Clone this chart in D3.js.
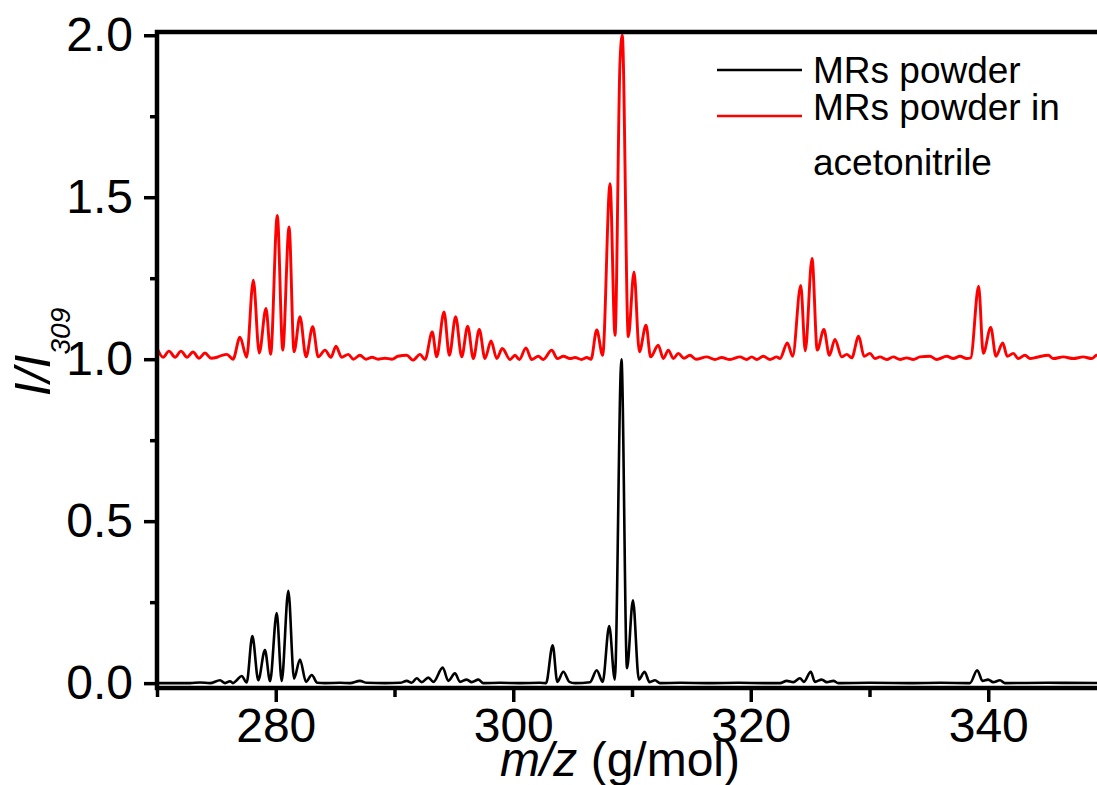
<!DOCTYPE html>
<html>
<head>
<meta charset="utf-8">
<script src="https://cdn.jsdelivr.net/npm/d3@7"></script>
<style>
  html, body { margin: 0; padding: 0; background: #fff; }
  svg { display: block; font-family: 'Liberation Sans', Arial, sans-serif; }
</style>
</head>
<body>
<div id="chart"></div>
<script>
// m/z and I/I309, peak tops and troughs
var powderMz = [270.00, 272.78, 273.62, 274.46, 275.31, 275.73, 276.15, 276.40, 276.71, 277.13,
  277.55, 278.03, 278.53, 279.09, 279.52, 280.08, 280.50, 281.06, 281.54, 282.04,
  282.55, 283.03, 283.50, 284.15, 285.41, 286.25, 287.09, 287.66, 289.20, 290.48,
  291.03, 291.45, 291.87, 292.29, 292.85, 293.28, 294.06, 294.53, 295.09, 295.52,
  296.08, 296.50, 297.06, 297.48, 298.88, 300.57, 302.25, 302.76, 303.32, 303.71,
  304.22, 304.72, 305.20, 306.46, 307.03, 307.53, 308.08, 308.55, 309.11, 309.58,
  310.08, 310.58, 311.06, 311.48, 311.94, 312.36, 314.04, 316.50, 319.00, 321.20,
  322.46, 323.03, 323.58, 324.14, 324.48, 325.05, 325.41, 325.98, 326.40, 326.96,
  327.37, 330.00, 333.50, 336.00, 338.46, 339.07, 339.52, 339.99, 340.42, 340.99,
  341.41, 345.00, 350.00]
var powderI = [0.000, 0.000, 0.002, 0.000, 0.009, 0.000, 0.006, 0.000, 0.009, 0.022,
  0.002, 0.145, 0.009, 0.102, 0.006, 0.216, 0.007, 0.285, 0.014, 0.073,
  0.004, 0.025, 0.001, 0.000, 0.001, 0.000, 0.007, 0.001, 0.000, 0.001,
  0.007, 0.001, 0.015, 0.003, 0.017, 0.004, 0.048, 0.007, 0.030, 0.004,
  0.011, 0.003, 0.011, 0.000, 0.001, 0.000, 0.001, 0.000, 0.117, 0.004,
  0.035, 0.004, 0.000, 0.003, 0.040, 0.004, 0.176, 0.011, 1.000, 0.046,
  0.256, 0.011, 0.035, 0.003, 0.009, 0.000, 0.001, 0.000, 0.001, 0.000,
  0.000, 0.007, 0.003, 0.015, 0.004, 0.035, 0.004, 0.011, 0.003, 0.007,
  0.000, 0.001, 0.000, 0.001, 0.000, 0.040, 0.007, 0.011, 0.003, 0.009,
  0.000, 0.001, 0.000]

var acnMz = [270.00, 270.51, 271.01, 271.52, 272.02, 272.53, 273.03, 273.54, 274.04, 274.55,
  275.05, 275.47, 275.89, 276.40, 276.99, 277.55, 278.11, 278.61, 279.18, 279.57,
  280.13, 280.59, 281.12, 281.54, 282.04, 282.55, 283.11, 283.58, 284.15, 284.65,
  285.07, 285.55, 286.11, 286.53, 287.09, 287.60, 288.11, 288.61, 289.20, 289.79,
  290.29, 291.03, 291.56, 292.15, 292.57, 293.18, 293.55, 294.17, 294.62, 295.15,
  295.66, 296.16, 296.64, 297.14, 297.62, 298.13, 298.61, 299.08, 299.73, 300.15,
  300.51, 301.07, 301.55, 302.11, 302.53, 303.24, 303.71, 304.22, 304.78, 305.20,
  305.76, 306.19, 306.55, 307.03, 307.53, 308.15, 308.57, 308.99, 309.18, 309.69,
  310.17, 310.62, 311.18, 311.57, 312.21, 312.64, 313.06, 313.48, 313.90, 314.38,
  314.88, 315.39, 316.29, 316.99, 317.55, 318.25, 319.09, 319.66, 320.08, 320.50,
  321.06, 321.62, 322.19, 322.46, 323.08, 323.53, 324.21, 324.59, 325.16, 325.60,
  326.16, 326.62, 327.09, 327.66, 328.08, 328.50, 329.09, 329.54, 330.04, 330.46,
  330.88, 331.45, 332.00, 332.57, 333.13, 333.69, 334.25, 335.09, 335.66, 336.50,
  337.05, 337.62, 338.18, 338.52, 339.19, 339.58, 340.21, 340.65, 341.22, 341.60,
  342.11, 342.53, 343.09, 343.52, 344.08, 345.06, 345.48, 346.32, 347.16, 348.00,
  348.71, 349.13, 350.00]
var acnI = [1.034, 1.006, 1.025, 1.006, 1.025, 1.006, 1.022, 1.003, 1.019, 1.003,
  1.006, 1.012, 1.015, 1.000, 1.068, 1.006, 1.244, 1.019, 1.157, 1.015,
  1.444, 1.028, 1.408, 1.023, 1.131, 1.007, 1.100, 1.007, 1.028, 1.006,
  1.040, 1.006, 1.015, 1.000, 1.012, 1.000, 1.006, 1.000, 1.003, 1.000,
  1.009, 1.012, 0.997, 1.015, 0.999, 1.084, 1.007, 1.146, 1.012, 1.131,
  1.007, 1.102, 1.002, 1.092, 1.002, 1.056, 1.002, 1.033, 0.999, 1.012,
  0.999, 1.035, 0.999, 1.009, 0.999, 1.028, 1.002, 1.009, 1.002, 1.005,
  0.999, 1.005, 1.000, 1.090, 1.012, 1.542, 1.074, 1.918, 2.000, 1.069,
  1.269, 1.023, 1.105, 1.007, 1.043, 1.002, 1.028, 1.002, 1.018, 1.003,
  1.012, 1.000, 1.007, 0.999, 1.005, 0.999, 1.007, 0.999, 1.007, 0.999,
  1.009, 0.999, 1.007, 1.002, 1.050, 1.009, 1.228, 1.026, 1.311, 1.028,
  1.092, 1.012, 1.061, 1.007, 1.015, 1.004, 1.071, 1.009, 1.018, 1.002,
  1.007, 0.999, 1.007, 0.999, 1.004, 0.999, 1.007, 1.009, 0.999, 1.009,
  1.002, 1.009, 1.002, 1.004, 1.225, 1.018, 1.098, 1.009, 1.050, 1.009,
  1.018, 1.002, 1.012, 1.002, 1.006, 1.012, 1.002, 1.007, 1.002, 1.007,
  1.002, 1.012, 1.000]

var xMajorTicks = [280, 300, 320, 340]
var xMinorTicks = [270, 290, 310, 330, 350]
var yMajorTicks = [0, 0.5, 1.0, 1.5, 2.0]
var yMinorTicks = [0.25, 0.75, 1.25, 1.75]
var legendLines = [
  { color: '#000', text: ['MRs powder'] },
  { color: '#ff0000', text: ['MRs powder in', 'acetonitrile'] }
]

var W = 1097, H = 785
var svg = d3.select('#chart').append('svg')
  .attr('width', W)
  .attr('height', H)

var x = d3.scaleLinear().domain([270, 350]).range([157, 1107])
var y = d3.scaleLinear().domain([-0.015, 2.01]).range([688, 32])

function zip (xs, ys) {
  return xs.map(function (d, i) { return [d, ys[i]] })
}

var line = d3.line()
  .x(function (d) { return x(d[0]) })
  .y(function (d) { return y(d[1]) })
  .curve(d3.curveMonotoneX)

// 曲线
svg.append('path')
  .datum(zip(acnMz, acnI))
  .attr('d', line)
  .attr('fill', 'none')
  .attr('stroke', '#ff0000')
  .attr('stroke-width', 2.9)
  .attr('stroke-linejoin', 'round')

svg.append('path')
  .datum(zip(powderMz, powderI))
  .attr('d', line)
  .attr('fill', 'none')
  .attr('stroke', '#000')
  .attr('stroke-width', 2.6)
  .attr('stroke-linejoin', 'round')

// 边框
svg.append('rect')
  .attr('x', x(270))
  .attr('y', y(2.01))
  .attr('width', x(350) - x(270))
  .attr('height', y(-0.015) - y(2.01))
  .attr('fill', 'none')
  .attr('stroke', '#000')
  .attr('stroke-width', 4.5)

function styleAxis (g) {
  g.select('.domain').remove()
  g.selectAll('.tick line').attr('stroke', '#000').attr('stroke-width', 3.5)
  g.selectAll('.tick text').attr('fill', '#000')
  g.attr('font-family', null).attr('font-size', 48)
}

// 横坐标
svg.append('g')
  .attr('transform', 'translate(0,' + y(-0.015) + ')')
  .call(d3.axisBottom(x).tickValues(xMinorTicks).tickSize(9).tickFormat(''))
  .call(styleAxis)
svg.append('g')
  .attr('transform', 'translate(0,' + y(-0.015) + ')')
  .call(d3.axisBottom(x).tickValues(xMajorTicks).tickSize(14).tickPadding(6).tickFormat(d3.format('d')))
  .call(styleAxis)

// 纵坐标
svg.append('g')
  .attr('transform', 'translate(' + x(270) + ',0)')
  .call(d3.axisLeft(y).tickValues(yMinorTicks).tickSize(7).tickFormat(''))
  .call(styleAxis)
svg.append('g')
  .attr('transform', 'translate(' + x(270) + ',0)')
  .call(d3.axisLeft(y).tickValues(yMajorTicks).tickSize(13).tickPadding(11).tickFormat(d3.format('.1f')))
  .call(styleAxis)

// axis titles
var xt = svg.append('text')
  .attr('x', 620)
  .attr('y', 776)
  .attr('text-anchor', 'middle')
  .attr('font-size', 48)
xt.append('tspan').attr('font-style', 'italic').text('m/z')
xt.append('tspan').text(' (g/mol)')

var yt = svg.append('text')
  .attr('transform', 'translate(50,352) rotate(-90)')
  .attr('text-anchor', 'middle')
  .attr('font-size', 50)
  .attr('font-style', 'italic')
yt.append('tspan').text('I/I')
yt.append('tspan').attr('font-size', 28).attr('dy', 20).text('309')

// legend
var lgY = [70, 116]
var lgBase = [[83], [120, 175]]
legendLines.forEach(function (d, i) {
  svg.append('line')
    .attr('x1', 717).attr('x2', 802)
    .attr('y1', lgY[i]).attr('y2', lgY[i])
    .attr('stroke', d.color)
    .attr('stroke-width', 2.4)
  d.text.forEach(function (t, j) {
    svg.append('text')
      .attr('x', 813)
      .attr('y', lgBase[i][j])
      .attr('font-size', 37)
      .text(t)
  })
})
</script>
</body>
</html>
